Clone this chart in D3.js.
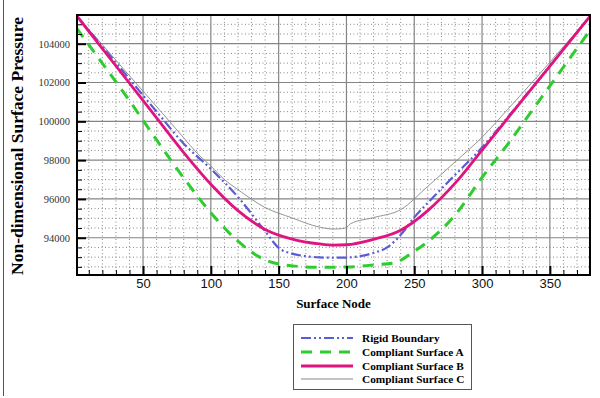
<!DOCTYPE html>
<html>
<head>
<meta charset="utf-8">
<script src="https://cdn.jsdelivr.net/npm/d3@7"></script>
<style>
  body { margin: 0; background: #fff; }
  svg { display: block; }
</style>
</head>
<body>
<div id="chart"></div>
<script>
// Series data: [surface node, pressure]
const rigidNodes = [1, 20, 40, 60, 80, 100, 120, 140, 150, 160, 170, 180, 190, 200, 210, 220, 230, 240, 250, 260, 270, 280, 300, 320, 340, 360, 380];
const rigidVals = [105450, 103860, 102180, 100500, 98850, 97550, 96100, 94340, 93480, 93180, 93050, 92990, 92970, 92980, 93050, 93220, 93500, 94150, 95050, 95800, 96520, 97230, 98650, 100300, 102000, 103720, 105450];

const surfANodes = [1, 20, 40, 60, 80, 100, 120, 140, 160, 180, 200, 220, 235, 250, 260, 280, 300, 320, 340, 360, 380];
const surfAVals = [104800, 102990, 101060, 99040, 97080, 95290, 93820, 92860, 92550, 92480, 92490, 92600, 92700, 93300, 93800, 95160, 97110, 98920, 100860, 102790, 104730];

const surfBNodes = [1, 20, 40, 60, 80, 100, 120, 140, 160, 180, 190, 200, 220, 240, 260, 280, 300, 320, 340, 360, 380];
const surfBVals = [105450, 103751, 101963, 100175, 98390, 96760, 95400, 94430, 93930, 93680, 93620, 93640, 93920, 94390, 95400, 96800, 98520, 100250, 101980, 103710, 105450];

const surfCNodes = [1, 20, 40, 60, 80, 90, 100, 110, 120, 140, 160, 180, 190, 197, 200, 203, 220, 240, 260, 280, 300, 320, 340, 360, 380];
const surfCVals = [105450, 103950, 102350, 100760, 99150, 98350, 97700, 97000, 96480, 95560, 95020, 94550, 94450, 94470, 94530, 94720, 95040, 95450, 96650, 97900, 99180, 100700, 102250, 103850, 105450];

const xTicks = [50, 100, 150, 200, 250, 300, 350];
const yTicks = [94000, 96000, 98000, 100000, 102000, 104000];
const seriesNames = ["Rigid Boundary", "Compliant Surface A", "Compliant Surface B", "Compliant Surface C"];

const W = 600, H = 398;
const plotL = 77, plotT = 15, plotR = 590, plotB = 275;

const svg = d3.select("#chart").append("svg")
  .attr("width", W).attr("height", H);

// thin frame line down the left edge of the figure
svg.append("line")
  .attr("x1", 3.5).attr("x2", 3.5).attr("y1", 0).attr("y2", 396)
  .attr("stroke", "#555").attr("stroke-width", 1);

const x = d3.scaleLinear().domain([1.3, 379.6]).range([plotL, plotR]);
const y = d3.scaleLinear().domain([92080, 105480]).range([plotB, plotT]);

// minor grid (dotted)
const xMinor = d3.range(10, 380, 10).filter(v => v % 50 !== 0);
const yMinor = d3.range(92500, 105500, 500).filter(v => v % 2000 !== 0);

const grid = svg.append("g");
grid.selectAll(".xminor").data(xMinor).enter().append("line")
  .attr("x1", d => x(d)).attr("x2", d => x(d))
  .attr("y1", plotT).attr("y2", plotB)
  .attr("stroke", "#888").attr("stroke-width", 1).attr("stroke-dasharray", "1,2.5");
grid.selectAll(".yminor").data(yMinor).enter().append("line")
  .attr("x1", plotL).attr("x2", plotR)
  .attr("y1", d => y(d)).attr("y2", d => y(d))
  .attr("stroke", "#888").attr("stroke-width", 1).attr("stroke-dasharray", "1,2.5");

// major grid (solid)
grid.selectAll(".xmajor").data(xTicks).enter().append("line")
  .attr("x1", d => x(d)).attr("x2", d => x(d))
  .attr("y1", plotT).attr("y2", plotB)
  .attr("stroke", "#858585").attr("stroke-width", 1.2);
grid.selectAll(".ymajor").data(yTicks).enter().append("line")
  .attr("x1", plotL).attr("x2", plotR)
  .attr("y1", d => y(d)).attr("y2", d => y(d))
  .attr("stroke", "#858585").attr("stroke-width", 1.2);

// curves
const line = d3.line().x(d => x(d[0])).y(d => y(d[1])).curve(d3.curveMonotoneX);
const series = [
  { nodes: rigidNodes, vals: rigidVals, color: "#5b5bd8", width: 2.2, dash: "10,3,2,3,2,3" },
  { nodes: surfANodes, vals: surfAVals, color: "#2ecc2e", width: 3, dash: "11,8" },
  { nodes: surfBNodes, vals: surfBVals, color: "#e0147f", width: 2.8, dash: null },
  { nodes: surfCNodes, vals: surfCVals, color: "#888888", width: 0.9, dash: null }
];

const plot = svg.append("g");
plot.append("clipPath").attr("id", "clip").append("rect")
  .attr("x", plotL).attr("y", plotT).attr("width", plotR - plotL).attr("height", plotB - plotT);

// draw order: C, A, Rigid, B on top
[3, 1, 0, 2].forEach(i => {
  const s = series[i];
  plot.append("path")
    .datum(s.nodes.map((n, k) => [n, s.vals[k]]))
    .attr("d", line)
    .attr("clip-path", "url(#clip)")
    .attr("fill", "none")
    .attr("stroke", s.color)
    .attr("stroke-width", s.width)
    .attr("stroke-dasharray", s.dash);
});

// frame
svg.append("rect")
  .attr("x", plotL).attr("y", plotT).attr("width", plotR - plotL).attr("height", plotB - plotT)
  .attr("fill", "none").attr("stroke", "#000").attr("stroke-width", 2);

// axes with inward ticks
const xAxis = svg.append("g").attr("transform", `translate(0,${plotB})`)
  .call(d3.axisBottom(x).tickValues(xTicks).tickSize(-9).tickPadding(4));
xAxis.select(".domain").remove();
xAxis.selectAll(".tick line").attr("stroke", "#000").attr("stroke-width", 2);
xAxis.selectAll(".tick text")
  .attr("font-family", "Arial, 'Liberation Sans', sans-serif")
  .attr("font-size", 13).attr("fill", "#111");

const xMinorAxis = svg.append("g").attr("transform", `translate(0,${plotB})`)
  .call(d3.axisBottom(x).tickValues(xMinor).tickSize(-5).tickFormat(""));
xMinorAxis.select(".domain").remove();
xMinorAxis.selectAll(".tick line").attr("stroke", "#000").attr("stroke-width", 1);

const yAxis = svg.append("g").attr("transform", `translate(${plotL},0)`)
  .call(d3.axisLeft(y).tickValues(yTicks).tickSize(-9).tickPadding(7).tickFormat(d3.format("d")));
yAxis.select(".domain").remove();
yAxis.selectAll(".tick line").attr("stroke", "#000").attr("stroke-width", 2);
yAxis.selectAll(".tick text")
  .attr("font-family", "'Liberation Serif', 'Times New Roman', serif")
  .attr("font-size", 10.5).attr("fill", "#333");

const yMinorAxis = svg.append("g").attr("transform", `translate(${plotL},0)`)
  .call(d3.axisLeft(y).tickValues(yMinor).tickSize(-5).tickFormat(""));
yMinorAxis.select(".domain").remove();
yMinorAxis.selectAll(".tick line").attr("stroke", "#000").attr("stroke-width", 1);

// axis titles
svg.append("text")
  .attr("x", (plotL + plotR) / 2).attr("y", 308)
  .attr("text-anchor", "middle")
  .attr("font-family", "'Liberation Serif', 'Times New Roman', serif")
  .attr("font-weight", "bold").attr("font-size", 13)
  .text("Surface Node");

svg.append("text")
  .attr("transform", "translate(23,146) rotate(-90)")
  .attr("text-anchor", "middle")
  .attr("font-family", "'Liberation Serif', 'Times New Roman', serif")
  .attr("font-weight", "bold").attr("font-size", 17.5)
  .text("Non-dimensional Surface Pressure");

// legend
const lg = svg.append("g").attr("transform", "translate(293,324)");
lg.append("rect").attr("x", 0.5).attr("y", 0.5).attr("width", 178).attr("height", 65)
  .attr("fill", "#fff").attr("stroke", "#555").attr("stroke-width", 1);

const rowY = [14, 28, 42, 55];
series.forEach((s, i) => {
  lg.append("line")
    .attr("x1", 8).attr("x2", 60).attr("y1", rowY[i]).attr("y2", rowY[i])
    .attr("stroke", s.color)
    .attr("stroke-width", i === 3 ? 1.2 : s.width)
    .attr("stroke-dasharray", s.dash);
  lg.append("text")
    .attr("x", 69).attr("y", rowY[i] + 3.8)
    .attr("font-family", "'Liberation Serif', 'Times New Roman', serif")
    .attr("font-weight", "bold").attr("font-size", 11.3)
    .text(seriesNames[i]);
});
</script>
</body>
</html>
